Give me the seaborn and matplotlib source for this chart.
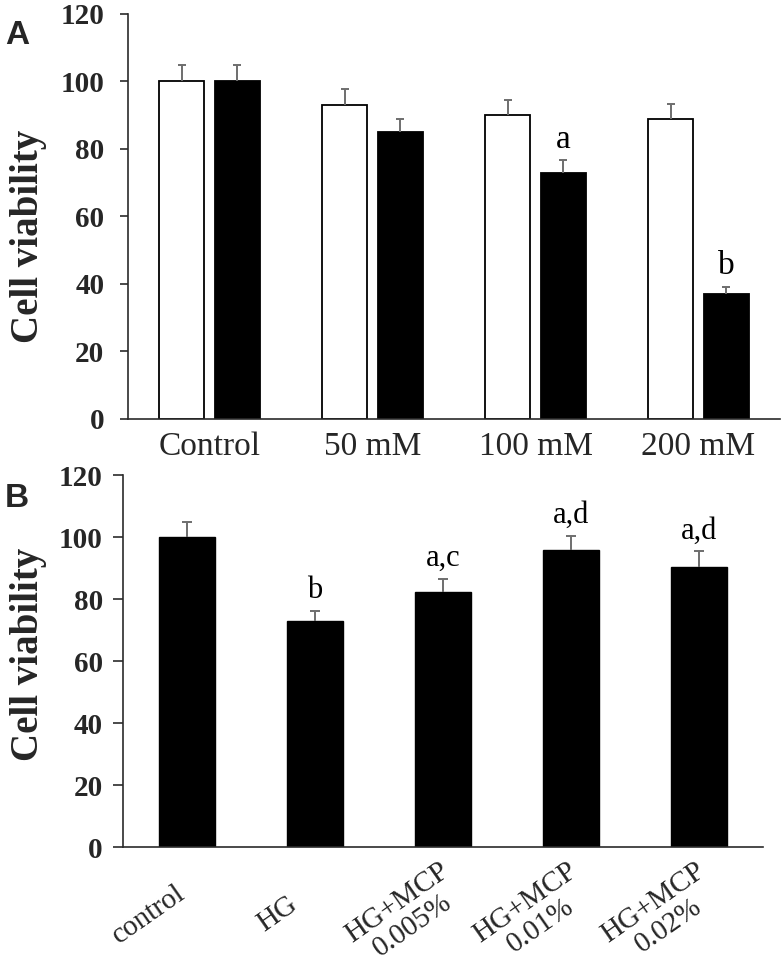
import numpy as np
import pandas as pd
import matplotlib
matplotlib.use('Agg')
import matplotlib.pyplot as plt
import matplotlib.transforms as mtrans
import seaborn as sns

# panel A data
conc_labels = ['Control', '50 mM', '100 mM', '200 mM']
series_names = ['white', 'black']
white_mean = [100, 93, 90, 89]
white_err = [5, 4.7, 4.5, 4.4]
black_mean = [100, 85, 73, 37]
black_err = [5, 4, 3.6, 2.2]
black_sig = ['', '', 'a', 'b']

# panel B data
treat_labels = ['control', 'HG', 'HG+MCP\n0.005%', 'HG+MCP\n0.01%', 'HG+MCP\n0.02%']
treat_mean = [100, 73, 82.3, 95.8, 90.4]
treat_err = [5, 3.3, 4.3, 4.7, 5]
treat_sig = ['', 'b', 'a,c', 'a,d', 'a,d']

sns.set_theme(style='white')
plt.rcParams['font.family'] = ['Liberation Serif', 'DejaVu Serif']

ecol = '#6e6e6e'
spine_col = '#2b2b2b'

fig = plt.figure(figsize=(7.84, 9.69), dpi=100)
ax_a = fig.add_axes([0.1633, 0.5676, 0.8316, 0.418])
ax_b = fig.add_axes([0.1569, 0.1256, 0.8163, 0.3842])


def add_errors(ax, bars, errs, cap):
    xs = np.array([b.get_x() + b.get_width() / 2 for b in bars])
    ys = np.array([b.get_height() for b in bars])
    errs = np.array(errs)
    ax.vlines(xs, ys, ys + errs, color=ecol, linewidth=1.4, zorder=3)
    ax.plot(xs, ys + errs, ls='none', marker='_', markersize=cap,
            markeredgewidth=1.4, color=ecol, zorder=3)
    return xs, ys + errs


def add_letters(ax, xs, tops, letters, size):
    for x, t, s in zip(xs, tops, letters):
        if s:
            ax.annotate(s, xy=(x, t), xytext=(0, 9), textcoords='offset points',
                        ha='center', va='baseline', fontsize=size, color='black')


def style_axis(ax, ylab_x, ylab_y, ypad, ticklen):
    sns.despine(ax=ax)
    for side in ['left', 'bottom']:
        ax.spines[side].set_color(spine_col)
        ax.spines[side].set_linewidth(1.2)
    ax.set_ylim(0, 120)
    ax.set_yticks(range(0, 121, 20))
    ax.tick_params(axis='y', left=True, direction='out', length=ticklen, width=1.2,
                   color=spine_col, pad=ypad, labelsize=21)
    for lab in ax.get_yticklabels():
        lab.set_fontweight('bold')
    ax.set_ylabel('Cell viability', fontsize=28, fontweight='bold')
    ax.yaxis.set_label_coords(ylab_x, ylab_y)
    ax.set_xlabel('')


# panel A
df_a = pd.DataFrame({
    'conc': conc_labels * 2,
    'viability': white_mean + black_mean,
    'series': [series_names[0]] * 4 + [series_names[1]] * 4,
})
sns.barplot(data=df_a, x='conc', y='viability', hue='series', order=conc_labels,
            hue_order=series_names, palette=['white', 'black'], saturation=1,
            width=0.68, gap=0.19, edgecolor='black', linewidth=1.3,
            errorbar=None, legend=False, ax=ax_a)
ax_a.set_xlim(-0.5, 3.5)
add_errors(ax_a, ax_a.containers[0], white_err, 6)
xs_b, tops_b = add_errors(ax_a, ax_a.containers[1], black_err, 6)
add_letters(ax_a, xs_b, tops_b, black_sig, 24)
style_axis(ax_a, -0.124, 0.452, 11, 6)
ax_a.tick_params(axis='x', length=0, pad=9, labelsize=24)

# panel B
df_b = pd.DataFrame({'treat': treat_labels, 'viability': treat_mean})
sns.barplot(data=df_b, x='treat', y='viability', order=treat_labels, color='black',
            saturation=1, width=0.43, edgecolor='black', linewidth=1.0,
            errorbar=None, ax=ax_b)
ax_b.set_xlim(-0.5, 4.5)
xs_t, tops_t = add_errors(ax_b, ax_b.containers[0], treat_err, 7.5)
add_letters(ax_b, xs_t, tops_t, treat_sig, 22)
style_axis(ax_b, -0.119, 0.518, 7, 7.5)
ax_b.set_xticks(range(len(treat_labels)))
ax_b.set_xticklabels(treat_labels, rotation=35, ha='center', va='center',
                     rotation_mode='anchor', multialignment='center', linespacing=1.1,
                     fontsize=21)
ax_b.tick_params(axis='x', length=0, pad=0)
shift = mtrans.ScaledTranslation(-38 / 100, -67 / 100, fig.dpi_scale_trans)
for lab in ax_b.get_xticklabels():
    lab.set_transform(lab.get_transform() + shift)

# panel letters
fig.text(0.006, 0.955, 'A', fontsize=24, fontweight='bold', family='Liberation Sans')
fig.text(0.006, 0.477, 'B', fontsize=24, fontweight='bold', family='Liberation Sans')

fig.savefig('out.png', dpi=100)
